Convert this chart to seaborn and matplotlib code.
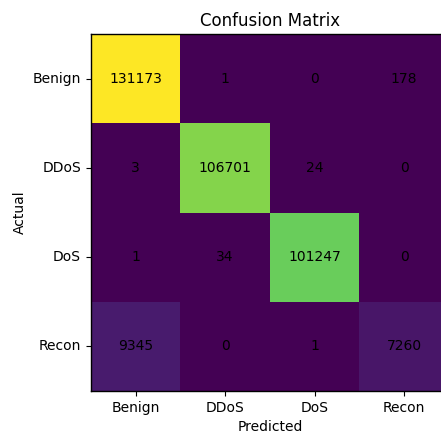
import numpy as np
import seaborn as sns
import matplotlib.pyplot as plt

labels = ["Benign", "DDoS", "DoS", "Recon"]
benign_row = [131173, 1, 0, 178]
ddos_row = [3, 106701, 24, 0]
dos_row = [1, 34, 101247, 0]
recon_row = [9345, 0, 1, 7260]

cm = np.array([benign_row, ddos_row, dos_row, recon_row])

fig = plt.figure(figsize=(4.41, 4.32), dpi=100)
ax = fig.add_axes([0.206, 0.095, 0.812, 0.826])
g = sns.heatmap(cm, annot=True, fmt="d", cmap="viridis", cbar=False,
                xticklabels=labels, yticklabels=labels, ax=ax,
                annot_kws={"color": "black", "fontsize": 10})
g.set_yticklabels(labels, rotation=0)
g.set_xticklabels(labels, rotation=0)
for s in g.spines.values():
    s.set_visible(True)
    s.set_linewidth(1)
g.set_title("Confusion Matrix")
g.set_xlabel("Predicted")
g.set_ylabel("Actual")
fig.savefig("out.png", dpi=100)
